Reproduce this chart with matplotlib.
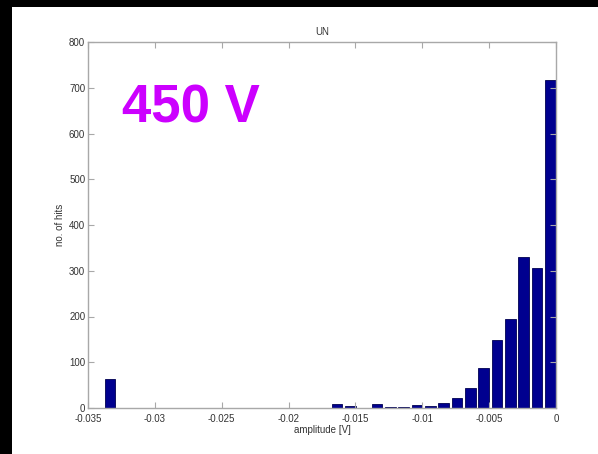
import numpy as np
import matplotlib
matplotlib.use("Agg")
from matplotlib import pyplot as plt
from matplotlib.patches import Rectangle

# histogram bin centres [V] and counts
bin_centers = [-0.03335, -0.03235, -0.03135, -0.03036, -0.02936, -0.02836, -0.02736,
               -0.02637, -0.02537, -0.02437, -0.02337, -0.02237, -0.02138, -0.02038,
               -0.01938, -0.01838, -0.01739, -0.01639, -0.01539, -0.01439, -0.01339,
               -0.01240, -0.01140, -0.01040, -0.00940, -0.00840, -0.00741, -0.00641,
               -0.00541, -0.00441, -0.00341, -0.00242, -0.00142, -0.00042]
counts = [64, 0, 0, 0, 0, 0, 0,
          0, 0, 0, 0, 0, 0, 0,
          1, 1, 1, 8, 5, 0, 8,
          3, 2, 6, 4, 11, 22, 44,
          88, 148, 194, 331, 305, 718]
bin_width = 0.000998

x_ticks = [-0.035, -0.03, -0.025, -0.02, -0.015, -0.01, -0.005, 0]
x_ticklabels = ["-0.035", "-0.03", "-0.025", "-0.02", "-0.015", "-0.01", "-0.005", "0"]
y_ticks = [0, 100, 200, 300, 400, 500, 600, 700, 800]

plt.rcParams['font.family'] = ['Liberation Sans', 'DejaVu Sans']

fig = plt.figure(figsize=(5.98, 4.54), dpi=100)
fig.patch.set_facecolor("white")
# dark strips along the left and top edges
fig.patches.append(Rectangle((0, 0), 12 / 598, 1, transform=fig.transFigure,
                             facecolor="black", edgecolor="none", zorder=0))
fig.patches.append(Rectangle((0, 1 - 7 / 454), 1, 7 / 454, transform=fig.transFigure,
                             facecolor="black", edgecolor="none", zorder=0))

ax = fig.add_axes([88 / 598, 46 / 454, 468 / 598, 366 / 454])
ax.bar(bin_centers, counts, width=0.8 * bin_width, color="#00008f",
       edgecolor="#000050", linewidth=0.6)

ax.set_xlim(-0.035, 0)
ax.set_ylim(0, 800)
ax.set_xticks(x_ticks)
ax.set_xticklabels(x_ticklabels)
ax.set_yticks(y_ticks)

grey = "#a8a8a8"
for s in ax.spines.values():
    s.set_color(grey)
    s.set_linewidth(1.0)
ax.tick_params(direction="in", length=4, width=0.8, color=grey,
               labelsize=7, labelcolor="#333333", top=True, right=True, pad=2)
ax.tick_params(axis="x", pad=4)

ax.set_title("UN", fontsize=7, color="#333333", pad=5)
ax.set_xlabel("amplitude [V]", fontsize=7, color="#333333", labelpad=1)
ax.set_ylabel("no. of hits", fontsize=7, color="#333333", labelpad=3)

ax.text(0.072, 0.781, "450 V", transform=ax.transAxes, fontsize=38,
        fontweight="bold", color="#cc00ff", va="baseline", ha="left")

fig.savefig("out.png", dpi=100)
